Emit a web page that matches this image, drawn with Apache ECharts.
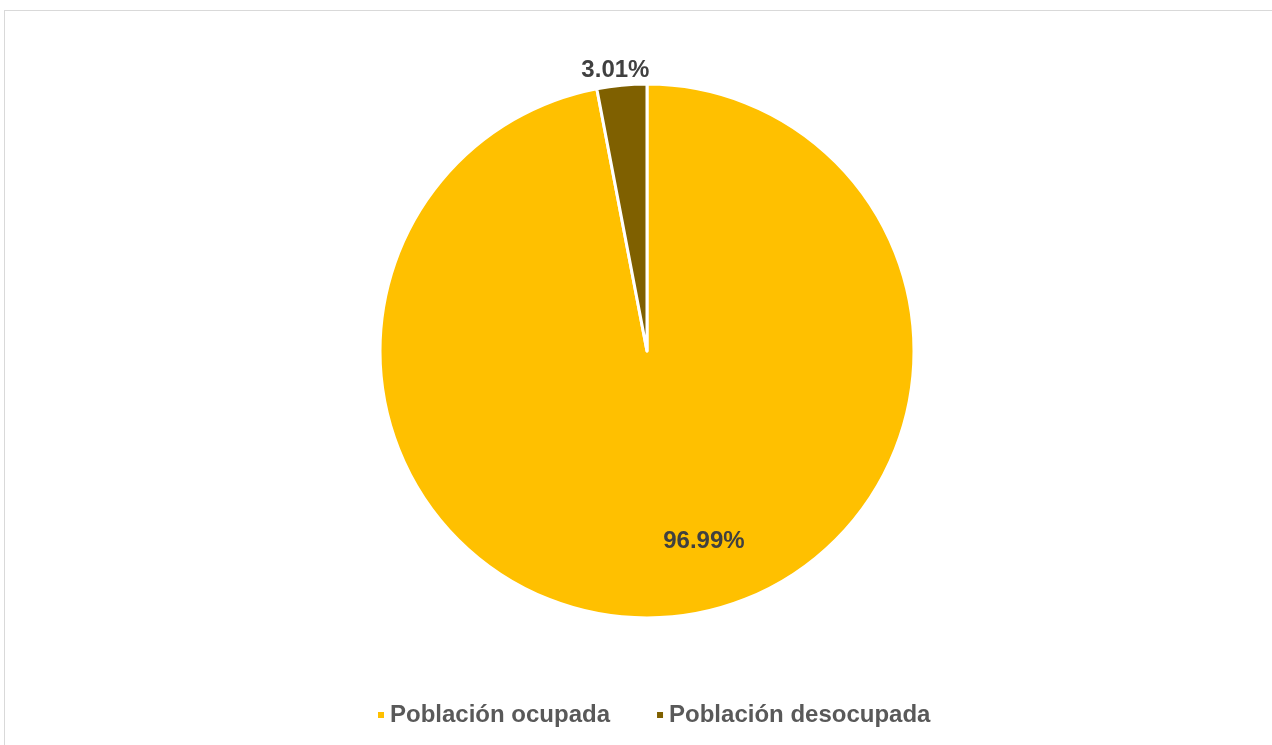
<!DOCTYPE html>
<html>
<head>
<meta charset="utf-8">
<script src="https://cdn.jsdelivr.net/npm/echarts@6/dist/echarts.min.js"></script>
<style>
  html, body { margin: 0; padding: 0; background: #fff; }
  #frame { position: absolute; left: 4px; top: 10px; width: 1280px; height: 750px; border: 1px solid #d9d9d9; box-sizing: border-box; }
  #chart { position: absolute; left: 0; top: 0; width: 1272px; height: 745px; }
</style>
</head>
<body>
<div id="frame"></div>
<div id="chart"></div>
<script>
// Distribución de la población económicamente activa
const categories = ['Población ocupada', 'Población desocupada'];
const values = [96.99, 3.01];
const colors = ['#FFC000', '#7F6000'];

// label nudges, Excel "best fit" style
const labelShift = [[44, 54], [33, -11]];

const chart = echarts.init(document.getElementById('chart'));

const option = {
    animation: false,
    legend: {
        bottom: 13,
        left: 371,
        itemWidth: 8,
        itemHeight: 8,
        itemGap: 45,
        icon: 'rect',
        textStyle: { color: '#595959', fontSize: 24, fontWeight: 'bold', fontFamily: 'Liberation Sans, Arial, sans-serif' },
        data: categories
    },
    series: [{
        type: 'pie',
        center: [647, 351],
        radius: 267,
        startAngle: 90,
        clockwise: true,
        itemStyle: { borderColor: '#fff', borderWidth: 3 },
        label: {
            show: true,
            formatter: p => p.value.toFixed(2) + '%',
            color: '#404040',
            fontSize: 24,
            fontWeight: 'bold',
            fontFamily: 'Liberation Sans, Arial, sans-serif'
        },
        labelLine: { show: false },
        labelLayout: p => ({ dx: labelShift[p.dataIndex][0], dy: labelShift[p.dataIndex][1] }),
        data: categories.map((c, i) => ({
            name: c,
            value: values[i],
            itemStyle: { color: colors[i] },
            label: { position: i === 0 ? 'inside' : 'outside' },
            labelLine: { show: false, length: 4, length2: 0 }
        }))
    }]
};

chart.setOption(option);
window.addEventListener('resize', () => chart.resize());
</script>
</body>
</html>
